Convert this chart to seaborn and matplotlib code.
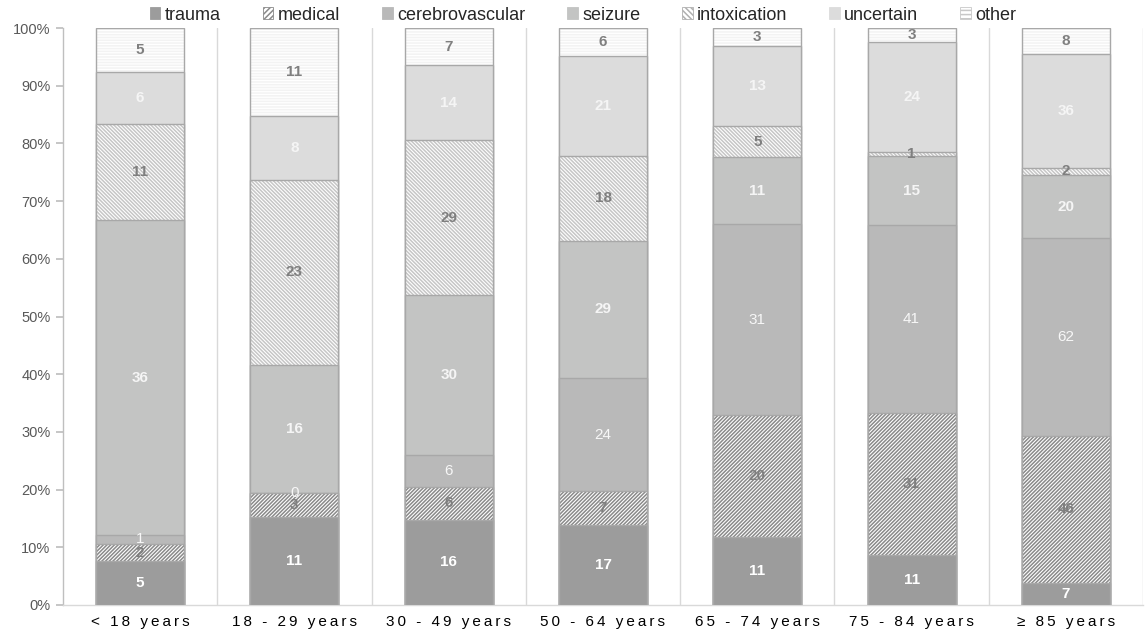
import numpy as np
import pandas as pd
import matplotlib
matplotlib.use("Agg")
import matplotlib.pyplot as plt
import seaborn as sns
from matplotlib.patches import Patch
from matplotlib.ticker import FuncFormatter

# ---------------- data ----------------
age_groups = ["< 18 years", "18 - 29 years", "30 - 49 years", "50 - 64 years",
              "65 - 74 years", "75 - 84 years", "≥ 85 years"]
causes = ["trauma", "medical", "cerebrovascular", "seizure", "intoxication", "uncertain", "other"]
trauma = [5, 11, 16, 17, 11, 11, 7]
medical = [2, 3, 6, 7, 20, 31, 46]
cerebrovascular = [1, 0, 6, 24, 31, 41, 62]
seizure = [36, 16, 30, 29, 11, 15, 20]
intoxication = [11, 23, 29, 18, 5, 1, 2]
uncertain = [6, 8, 14, 21, 13, 24, 36]
other = [5, 11, 7, 6, 3, 3, 8]
y_ticks = [0, 10, 20, 30, 40, 50, 60, 70, 80, 90, 100]

# ---------------- style ----------------
sns.set_theme(style="white")
plt.rcParams['font.family'] = ['Liberation Sans', 'DejaVu Sans']
plt.rcParams['hatch.linewidth'] = 1.1

styles = {
    "trauma":          dict(face="#9c9c9c", hatch=None, hcolor=None, tcolor="white", weight="bold"),
    "medical":         dict(face="white", hatch="/" * 9, hcolor="#8a8a8a", tcolor="#7f7f7f", weight="bold"),
    "cerebrovascular": dict(face="#b9b9b9", hatch=None, hcolor=None, tcolor="#f7f7f7", weight="normal"),
    "seizure":         dict(face="#c3c4c3", hatch=None, hcolor=None, tcolor="#f5f5f5", weight="bold"),
    "intoxication":    dict(face="white", hatch="\\" * 9, hcolor="#c6c6c6", tcolor="#7f7f7f", weight="bold"),
    "uncertain":       dict(face="#dcdcdc", hatch=None, hcolor=None, tcolor="#f5f5f5", weight="bold"),
    "other":           dict(face="white", hatch="-" * 6, hcolor="#f3f3f3", tcolor="#7f7f7f", weight="bold"),
}
legend_hatch = {"medical": "//////", "intoxication": "\\\\\\\\\\\\", "other": "----"}
edge_col = "#a8a8a8"
bar_w = 0.57

counts = pd.DataFrame(dict(zip(causes, [trauma, medical, cerebrovascular, seizure,
                                         intoxication, uncertain, other])), index=age_groups)
pct = counts.div(counts.sum(axis=1), axis=0) * 100
cum = pct.cumsum(axis=1)
bottoms = cum - pct

fig = plt.figure(figsize=(11.48, 6.39), dpi=100)
ax = fig.add_axes([63 / 1148, 1 - 605 / 639, (1143 - 63) / 1148, (605 - 28) / 639])

# separators
for k in range(1, len(age_groups) + 1):
    ax.axvline(k - 0.5, color="#d9d9d9", lw=1.0, zorder=0)

# stacked bars: draw cumulative tops from the top category down
for z, cause in enumerate(reversed(causes)):
    st = styles[cause]
    df = pd.DataFrame({"age": age_groups, "val": cum[cause].values})
    if st["hatch"]:
        sns.barplot(data=df, x="age", y="val", order=age_groups, color=st["face"],
                    saturation=1, width=bar_w, errorbar=None, ax=ax,
                    hatch=st["hatch"], edgecolor=st["hcolor"], linewidth=0, zorder=2 + z)
    else:
        sns.barplot(data=df, x="age", y="val", order=age_groups, color=st["face"],
                    saturation=1, width=bar_w, errorbar=None, ax=ax,
                    edgecolor=st["face"], linewidth=0, zorder=2 + z)
    sns.barplot(data=df, x="age", y="val", order=age_groups, fill=False,
                width=bar_w, errorbar=None, ax=ax, color=edge_col,
                edgecolor=edge_col, linewidth=1.0, zorder=2 + z)

# value labels
for cause in causes:
    st = styles[cause]
    for i, g in enumerate(age_groups):
        ax.text(i, bottoms.loc[g, cause] + pct.loc[g, cause] / 2, str(counts.loc[g, cause]),
                ha="center", va="center", fontsize=11, color=st["tcolor"],
                fontweight=st["weight"], zorder=50)

# axes
ax.set_xlim(-0.5, len(age_groups) - 0.5)
ax.set_ylim(0, 100)
ax.set_yticks(y_ticks)
ax.yaxis.set_major_formatter(FuncFormatter(lambda v, p: f"{int(v)}%"))
ax.set_xlabel("")
ax.set_ylabel("")
ax.set_xticks(range(len(age_groups)))
ax.set_xticklabels(["\u2009".join(list(g)) for g in age_groups], fontsize=11, color="black")
ax.tick_params(axis="x", length=0, pad=7)
ax.tick_params(axis="y", length=5, color="#bfbfbf", labelsize=10.5, labelcolor="#595959",
               direction="out", left=True, pad=4)
for s in ["top", "right"]:
    ax.spines[s].set_visible(False)
ax.spines["left"].set_color("#bfbfbf")
ax.spines["bottom"].set_color("#d9d9d9")
ax.spines["left"].set_linewidth(1.0)
ax.spines["bottom"].set_linewidth(1.0)

# legend
handles = []
for cause in causes:
    st = styles[cause]
    if st["hatch"]:
        ec = {"medical": "#8a8a8a", "intoxication": "#b0b0b0", "other": "#c8c8c8"}[cause]
        handles.append(Patch(facecolor=st["face"], edgecolor=ec,
                             hatch=legend_hatch[cause], linewidth=0.6, label=cause))
    else:
        handles.append(Patch(facecolor=st["face"], edgecolor=st["face"], linewidth=0.6, label=cause))
fig.legend(handles=handles, loc="center", bbox_to_anchor=(583 / 1148, 1 - 15 / 639), ncol=7,
           frameon=False, fontsize=13, handlelength=0.6, handleheight=0.6,
           handletextpad=0.25, columnspacing=2.3, borderaxespad=0)

fig.savefig("out.png", dpi=100)
